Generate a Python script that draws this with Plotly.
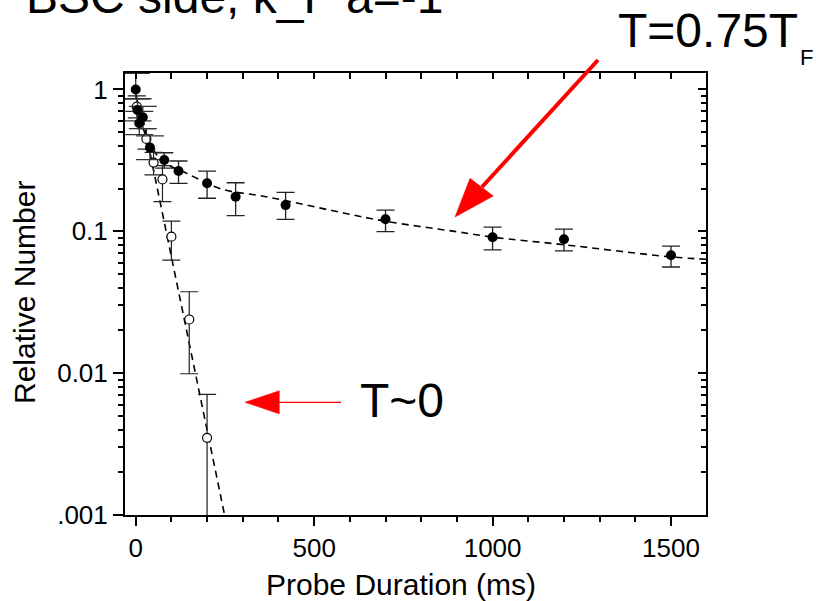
import plotly.graph_objects as go

# ---------------- data ----------------
# T = 0.75 T_F (filled circles)
warm_t = [0, 5, 10, 20, 40, 80, 120, 200, 280, 420, 700, 1000, 1200, 1500]
warm_n = [1.0, 0.717, 0.578, 0.637, 0.389, 0.318, 0.266, 0.218, 0.175, 0.153, 0.1215, 0.0907, 0.0878, 0.0677]
warm_hi = [1.3, 0.86, 0.70, 0.76, 0.47, 0.358, 0.313, 0.266, 0.220, 0.188, 0.141, 0.107, 0.1035, 0.0786]
warm_lo = [0.86, 0.60, 0.48, 0.53, 0.32, 0.279, 0.218, 0.171, 0.129, 0.1215, 0.0994, 0.0739, 0.0728, 0.0560]

# T ~ 0 (open circles)
cold_t = [3, 30, 50, 75, 100, 150, 200]
cold_n = [0.756, 0.448, 0.305, 0.232, 0.0917, 0.0239, 0.0035]
cold_hi = [0.90, 0.53, 0.36, 0.29, 0.118, 0.0375, 0.00709]
cold_lo = [0.63, 0.38, 0.25, 0.162, 0.0627, 0.0099, 0.0005]

# dashed guide curves
warm_fit_t = [0, 10, 20, 40, 77, 143, 245, 339, 413, 550, 698, 899, 1000, 1199, 1500, 1600]
warm_fit_n = [0.95, 0.68, 0.54, 0.41, 0.31, 0.256, 0.197, 0.180, 0.166, 0.140, 0.118, 0.0994, 0.091, 0.0805, 0.066, 0.0635]
cold_fit_t = [20, 96, 252]
cold_fit_n = [0.628, 0.074, 0.00092]

y_tickvals = [0.001, 0.01, 0.1, 1]
y_ticktext = [".001", "0.01", "0.1", "1"]
x_tickvals = [0, 500, 1000, 1500]

# ---------------- layout geometry ----------------
W, H = 816, 601
L, R, T, B = 125, 110, 73, 86
PW, PH = W - L - R, H - T - B
XR = [-30, 1598]
YR = [-3, 0.116]
FONT = "Liberation Sans, Arial, sans-serif"
EARLY = 5  # first points drawn with wider caps


def px(x):
    return (x - L) / PW


def py(y):
    return (H - B - y) / PH


def err(vals, hi, lo):
    return [h - v for v, h in zip(vals, hi)], [v - l for v, l in zip(vals, lo)]


fig = go.Figure()

fig.add_trace(go.Scatter(x=warm_fit_t, y=warm_fit_n, mode="lines", line=dict(color="black", width=1.6, dash="7px,5px", shape="spline"), showlegend=False, hoverinfo="skip"))
fig.add_trace(go.Scatter(x=cold_fit_t, y=cold_fit_n, mode="lines", line=dict(color="black", width=1.6, dash="7px,5px"), showlegend=False, hoverinfo="skip"))

cp, cm = err(cold_n, cold_hi, cold_lo)
fig.add_trace(go.Scatter(x=cold_t, y=cold_n, mode="markers",
                         marker=dict(symbol="circle", size=9, color="white", line=dict(color="black", width=1.2)),
                         error_y=dict(type="data", symmetric=False, array=cp, arrayminus=cm, color="#222", thickness=1.2, width=9),
                         showlegend=False))

wp, wm = err(warm_n, warm_hi, warm_lo)
fig.add_trace(go.Scatter(x=warm_t[:EARLY], y=warm_n[:EARLY], mode="markers",
                         marker=dict(symbol="circle", size=10, color="black"),
                         error_y=dict(type="data", symmetric=False, array=wp[:EARLY], arrayminus=wm[:EARLY],
                                      color="#333", thickness=1.3, width=14),
                         showlegend=False))
fig.add_trace(go.Scatter(x=warm_t[EARLY:], y=warm_n[EARLY:], mode="markers",
                         marker=dict(symbol="circle", size=10, color="black"),
                         error_y=dict(type="data", symmetric=False, array=wp[EARLY:], arrayminus=wm[EARLY:],
                                      color="#222", thickness=1.3, width=9),
                         showlegend=False))

# dummy trace to activate mirror axes (top/right with inside ticks)
fig.add_trace(go.Scatter(x=[None], y=[None], xaxis="x2", yaxis="y2", showlegend=False, hoverinfo="skip"))

axfont = dict(family=FONT, size=26, color="black")
fig.update_layout(
    width=W, height=H,
    margin=dict(l=L, r=R, t=T, b=B, pad=0),
    paper_bgcolor="white", plot_bgcolor="white",
    font=dict(family=FONT, color="black"),
    xaxis=dict(range=XR, showgrid=False, zeroline=False, showline=True, linecolor="black", linewidth=2,
               ticks="outside", ticklen=9, tickwidth=2, tickcolor="black",
               tickvals=x_tickvals, tickfont=axfont,
               minor=dict(ticks="outside", ticklen=5, tickwidth=1.5, tickcolor="black", dtick=100, tick0=0, showgrid=False)),
    yaxis=dict(type="log", range=YR, showgrid=False, zeroline=False, showline=True, linecolor="black", linewidth=2,
               ticks="outside", ticklen=10, tickwidth=2, tickcolor="black",
               tickvals=y_tickvals, ticktext=y_ticktext, tickfont=axfont,
               minor=dict(ticks="outside", ticklen=5, tickwidth=1.5, tickcolor="black", dtick="D1", showgrid=False)),
    xaxis2=dict(range=XR, overlaying="x", side="top", anchor="y", showgrid=False, zeroline=False, showline=True,
                linecolor="black", linewidth=2, ticks="inside", ticklen=6, tickwidth=1.5, tickcolor="black",
                dtick=100, tick0=0, showticklabels=False),
    yaxis2=dict(type="log", range=YR, overlaying="y", side="right", anchor="x", showgrid=False, zeroline=False,
                showline=True, linecolor="black", linewidth=2, ticks="inside", ticklen=8, tickwidth=1.5,
                tickcolor="black", tickvals=y_tickvals, showticklabels=False,
                minor=dict(ticks="inside", ticklen=5, tickwidth=1.5, tickcolor="black", dtick="D1", showgrid=False)),
)

annots = [
    dict(text="Probe Duration (ms)", x=px(401), y=py(584), xanchor="center", yanchor="middle", font=dict(size=30)),
    dict(text="Relative Number", x=px(24), y=py(293), xanchor="center", yanchor="middle", textangle=-90, font=dict(size=30)),
    dict(text="BSC side, k_F a=-1", x=px(24), y=py(-3), xanchor="left", yanchor="middle", font=dict(size=48)),
    dict(text="T=0.75T", x=px(616), y=py(31), xanchor="left", yanchor="middle", font=dict(size=48)),
    dict(text="F", x=px(798), y=py(58), xanchor="left", yanchor="middle", font=dict(size=22)),
    dict(text="T~0", x=px(358), y=py(400), xanchor="left", yanchor="middle", font=dict(size=48)),
]
for a in annots:
    a.update(xref="paper", yref="paper", showarrow=False)
    a["font"].update(family=FONT, color="black")
fig.update_layout(annotations=annots)

RED = "#ff0000"
shapes = [
    # big arrow to T=0.75T_F curve
    dict(type="line", x0=px(598), y0=py(60), x1=px(482), y1=py(187), line=dict(color=RED, width=4)),
    dict(type="path", path=f"M{px(455)},{py(217)} L{px(470)},{py(178.3)} L{px(493.3)},{py(196)} Z",
         fillcolor=RED, line=dict(color=RED, width=0.5)),
    # arrow to T~0 curve
    dict(type="line", x0=px(279), y0=py(402.3), x1=px(341), y1=py(402.3), line=dict(color=RED, width=1.3)),
    dict(type="path", path=f"M{px(245)},{py(402.3)} L{px(279.3)},{py(390.7)} L{px(279.3)},{py(413.9)} Z",
         fillcolor=RED, line=dict(color=RED, width=0.5)),
]
for s in shapes:
    s.update(xref="paper", yref="paper", layer="above")
fig.update_layout(shapes=shapes)

fig.write_html("out.html")
